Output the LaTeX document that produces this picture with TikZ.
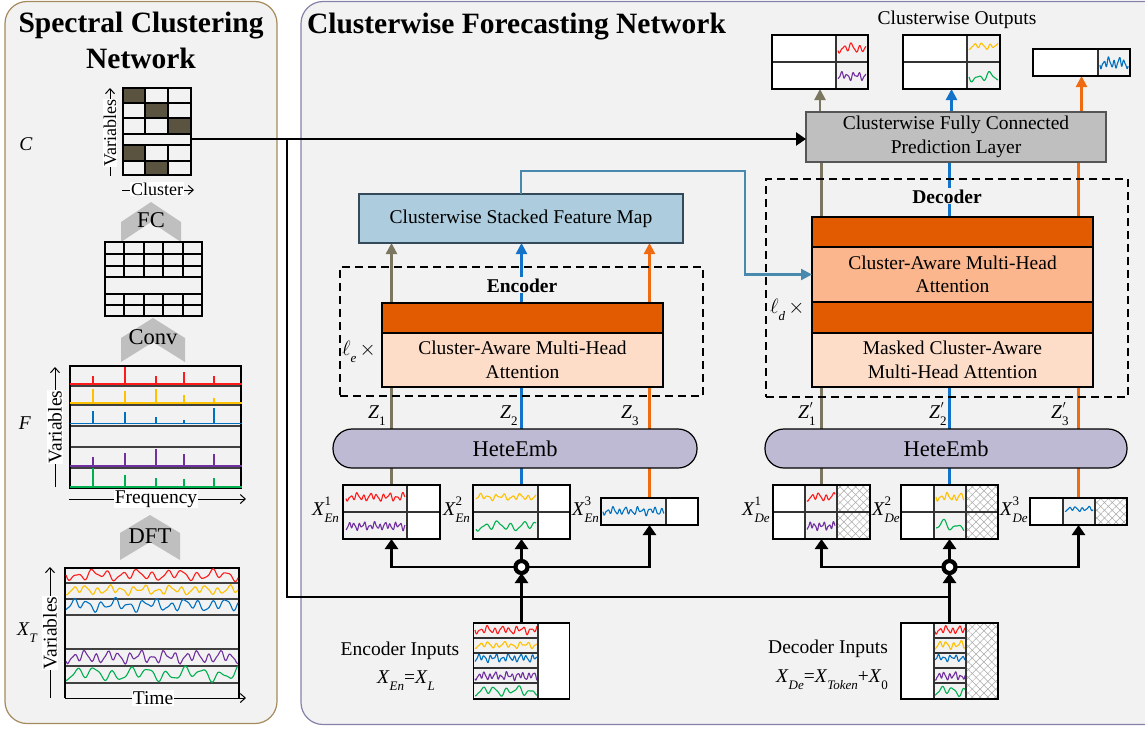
\documentclass[tikz,border=0pt]{standalone}
\usepackage{fontspec}
\setmainfont{Liberation Serif}
\usetikzlibrary{arrows.meta,patterns.meta}
\pgfdeclarelayer{panels}
\pgfdeclarelayer{wires}
\pgfsetlayers{panels,wires,main}

\definecolor{panelbg}{HTML}{F2F2F2}
\definecolor{leftedge}{HTML}{A58A5C}
\definecolor{rightedge}{HTML}{8482A8}
\definecolor{olivegray}{HTML}{7B7660}
\definecolor{wblue}{HTML}{1273C8}
\definecolor{worange}{HTML}{EE6B12}
\definecolor{sred}{HTML}{FF1A1A}
\definecolor{syellow}{HTML}{FFC000}
\definecolor{sblue}{HTML}{0070C0}
\definecolor{spurple}{HTML}{7030A0}
\definecolor{sgreen}{HTML}{00B050}
\definecolor{fmblue}{HTML}{ADCDDE}
\definecolor{fmedge}{HTML}{34495A}
\definecolor{linkblue}{HTML}{4A89AE}
\definecolor{dorange}{HTML}{E35B00}
\definecolor{morange}{HTML}{FBB68E}
\definecolor{peach}{HTML}{FDDCC8}
\definecolor{lav}{HTML}{BEBAD3}
\definecolor{predgray}{HTML}{BFBFBF}
\definecolor{prededge}{HTML}{555555}
\definecolor{cellfill}{HTML}{59533F}
\definecolor{chevgray}{HTML}{BFBFBF}
\definecolor{hatch}{HTML}{A8A8A8}

% wavy time series: colour, x0, width, mid y, amplitude, k1, k2, phase
\newcommand\tswave[8]{\draw[#1,wave] plot[domain=0:#3] ({#2+\x},{#4+#5*(0.5*sin(#6*\x+#8)+0.3*sin(#7*\x+2*#8)+0.2*sin(1.7*#6*\x+3*#8))});}
% cross-hatched (masked) cell
\newcommand\hatchcell[4]{%
  \fill[white] (#1,#2) rectangle (#3,#4);
  \fill[pattern={Lines[angle=45,distance=5.5pt,line width=0.5pt]},pattern color=hatch] (#1,#2) rectangle (#3,#4);
  \fill[pattern={Lines[angle=-45,distance=5.5pt,line width=0.5pt]},pattern color=hatch] (#1,#2) rectangle (#3,#4);}
% spectrum row: colour, baseline, five spike heights
\newcommand\spikes[7]{%
  \foreach \px/\ph in {93/#3,125/#4,156/#5,184/#6,214/#7} {\draw[#1,spike] (\px,#2) -- ++(0,-\ph);}
  \draw[#1,spike] (70,#2) -- (242,#2);}
% upward chevron: x0, x1, top, bottom, notch depth
\newcommand\chev[5]{\fill[chevgray] (#1,{#3+#5}) -- ({(#1+#2)/2},#3) -- (#2,{#3+#5}) -- (#2,#4) -- ({(#1+#2)/2},{#4-#5}) -- (#1,#4) -- cycle;}
% symbol with stacked super- and subscript
\newcommand\ssx[3]{\textit{#1}\rlap{\raisebox{0.5em}{\fontsize{13}{13}\selectfont #2}}\raisebox{-0.38em}{\fontsize{13}{13}\selectfont #3}}
\newcommand\subx[2]{\textit{#1}\raisebox{-0.38em}{\fontsize{13}{13}\selectfont\textit{#2}}}
\newcommand\primemark{\hspace{0.5pt}{\fontsize{11}{11}\selectfont$\prime$}}

\begin{document}
\begin{tikzpicture}[x=1pt,y=-1pt,
  font=\fontsize{19.5}{23.5}\selectfont,
  every node/.style={inner sep=0pt,outer sep=0pt},
  titletext/.style={font=\bfseries\fontsize{29.5}{34}\selectfont},
  boldlabel/.style={font=\bfseries\fontsize{19.5}{23.5}\selectfont},
  chevtext/.style={font=\fontsize{22.5}{26}\selectfont},
  gridline/.style={draw=black,line width=1.5pt},
  thinrule/.style={draw=black!75,line width=1.1pt},
  axisarrow/.style={draw=black,line width=1pt,-{Straight Barb[length=5pt,width=9pt]}},
  axislabel/.style={fill=white,inner sep=1pt},
  wave/.style={line width=1.1pt,smooth,samples=120,line join=round},
  spike/.style={line width=1.7pt},
  cellframe/.style={draw=black,line width=1.3pt},
  divider/.style={draw=black!80,line width=1.2pt},
  band/.style={draw=black,line width=1.4pt,minimum width=281pt,align=center},
  dashframe/.style={draw=black,line width=1.3pt,dash pattern=on 8pt off 5pt},
  pill/.style={draw=black,line width=1.2pt,fill=lav,rounded corners=19pt,minimum width=#1,minimum height=39pt,font=\fontsize{22.5}{26}\selectfont},
  wire/.style={line width=2.4pt},
  wirearrow/.style={wire,-{Triangle[length=11pt,width=11pt]}},
  blk/.style={draw=black,line width=2.8pt},
  blkarrow/.style={blk,-{Triangle[length=10pt,width=13pt]}},
  joinring/.style={circle,draw=black,line width=4.2pt,fill=white,minimum size=12pt},
  link/.style={draw=linkblue,line width=2.2pt,-{Triangle[length=11pt,width=11pt]}}
]
\useasboundingbox (0,0) rectangle (1145,728);
\clip (0,0) rectangle (1145,728);

\begin{pgfonlayer}{panels}
  \draw[leftedge,fill=panelbg,line width=1.2pt,rounded corners=22pt] (5,1.5) rectangle (277,723.5);
  \draw[rightedge,fill=panelbg,line width=1.2pt,rounded corners=22pt] (301,1.5) rectangle (1175,724.5);
\end{pgfonlayer}

%% ================= Spectral Clustering Network =================
\node[titletext,anchor=base] (sct1) at (141,32) {Spectral Clustering};
\node[titletext,anchor=base] (sct2) at (141,68) {Network};

% cluster assignment matrix C
\node[anchor=base] (clab) at (26,150) {\textit{C}};
\fill[cellfill] (123,88) rectangle (145,103) (145,103) rectangle (168,118) (168,118) rectangle (191,134)
                (123,145) rectangle (145,161) (145,161) rectangle (168,175);
\draw[gridline] (123,103) -- (191,103) (123,118) -- (191,118) (123,134) -- (191,134)
                (123,145) -- (191,145) (123,161) -- (191,161);
\draw[gridline] (145,88) -- (145,134) (168,88) -- (168,134) (145,145) -- (145,175) (168,145) -- (168,175);
\node[gridline,minimum width=68pt,minimum height=87pt] (cmat) at (157,131.5) {};
\draw[axisarrow] (110,176) -- (110,88);
\node[axislabel,rotate=90,font=\fontsize{18}{18}\selectfont] (cvar) at (110,133) {Variables};
\draw[axisarrow] (122,190) -- (194,190);
\node[axislabel,font=\fontsize{18}{18}\selectfont] (cclu) at (157,189) {Cluster};

% FC
\chev{121}{181}{202}{242}{20}
\node[chevtext,anchor=base] (fclab) at (151,227) {FC};
\draw[gridline] (105,254) -- (202,254) (105,266) -- (202,266) (105,277) -- (202,277)
                (105,294) -- (202,294) (105,305) -- (202,305);
\foreach \gx in {124,144,163,183} {\draw[gridline] (\gx,242) -- (\gx,277) (\gx,294) -- (\gx,316);}
\node[gridline,minimum width=97pt,minimum height=74pt] (fcmat) at (153.5,279) {};

% Conv
\chev{121}{185}{318}{362}{20}
\node[chevtext,anchor=base] (convlab) at (153,344) {Conv};

% spectrum F
\node[anchor=base] (flab) at (25,429) {\textit{F}};
\draw[thinrule] (70,386) -- (241,386) (70,405) -- (241,405) (70,426) -- (241,426)
                (70,447) -- (241,447) (70,468) -- (241,468);
\node[cellframe,minimum width=171pt,minimum height=122pt] (fspec) at (155.5,427) {};
\spikes{sred}{384}{8}{17}{8}{12}{8}
\spikes{syellow}{403}{14}{12}{14}{8}{5}
\spikes{sblue}{423.5}{13}{12}{7}{4}{16}
\spikes{spurple}{466}{9}{13}{17}{12}{12}
\spikes{sgreen}{487}{19}{12}{9}{8}{9}
\draw[axisarrow] (55,487) -- (55,367);
\node[axislabel,rotate=90] (fvar) at (55,427) {Variables};
\draw[axisarrow] (69,499) -- (246,499);
\node[axislabel] (ffreq) at (156,499) {Frequency};

% DFT
\chev{120}{180}{515}{560}{18}
\node[chevtext,anchor=base] (dftlab) at (150,543) {DFT};

% raw series X_T
\node[anchor=base west] (xtlab) at (17,635) {\ssx{X}{}{\textit{T}}};
\draw[thinrule] (65,583) -- (239,583) (65,599) -- (239,599) (65,615) -- (239,615)
                (65,649) -- (239,649) (65,666) -- (239,666) (65,683) -- (239,683);
\draw[cellframe] (65,698) -- (65,568) -- (239,568) -- (239,698);
\tswave{sred}{66}{172}{575}{7}{24}{9}{0}
\tswave{syellow}{66}{172}{590}{6}{30}{12}{40}
\tswave{sblue}{66}{172}{605}{8}{26}{10}{70}
\tswave{spurple}{66}{172}{657}{8}{32}{13}{20}
\tswave{sgreen}{66}{172}{674}{9}{20}{7}{55}
\draw[axisarrow] (50,698) -- (50,567);
\node[axislabel,rotate=90] (xtvar) at (50,633) {Variables};
\draw[axisarrow] (65,698) -- (246,698);
\node[axislabel] (xttime) at (153,698) {Time};

%% ================= Clusterwise Forecasting Network =================
\node[titletext,anchor=base west] (cftitle) at (307,33) {Clusterwise Forecasting Network};

% outputs
\node[anchor=base] (outlab) at (957,24) {Clusterwise Outputs};
\fill[white] (772,35) rectangle (836,89) (903,35) rectangle (967,89) (1033,49) rectangle (1098,76);
\tswave{sred}{838}{28}{48}{6}{45}{20}{15}
\tswave{spurple}{838}{28}{76}{5}{60}{27}{70}
\tswave{syellow}{969}{29}{46}{4}{45}{20}{35}
\tswave{sgreen}{969}{29}{77}{6}{30}{13}{0}
\tswave{sblue}{1100}{28}{63}{7}{70}{30}{10}
\draw[divider] (836,35) -- (836,89) (772,62) -- (868,62) (967,35) -- (967,89) (903,62) -- (1000,62) (1098,49) -- (1098,76);
\node[cellframe,minimum width=96pt,minimum height=54pt] (out1) at (820,62) {};
\node[cellframe,minimum width=97pt,minimum height=54pt] (out2) at (951.5,62) {};
\node[cellframe,minimum width=97pt,minimum height=27pt] (out3) at (1081.5,62.5) {};

% prediction layer
\node[draw=prededge,line width=1.3pt,fill=predgray,minimum width=300pt,minimum height=50pt,align=center] (pred) at (956,137)
  {Clusterwise Fully Connected\\Prediction Layer};

% feature map
\node[draw=fmedge,line width=1.3pt,fill=fmblue,minimum width=324pt,minimum height=49pt] (fmap) at (521,218.5)
  {Clusterwise Stacked Feature Map};

% encoder
\node[dashframe,minimum width=363pt,minimum height=129pt] (encbox) at (521.5,331.5) {};
\node[boldlabel,anchor=base,fill=panelbg,inner sep=1pt] (enclab) at (522,292) {Encoder};
\node[band,fill=dorange,minimum height=30pt] (encnorm) at (522.5,318) {};
\node[band,fill=peach,minimum height=54pt] (encattn) at (522.5,360) {Cluster-Aware Multi-Head\\Attention};
\node[anchor=base west] (lenc) at (342,355) {$\ell$\raisebox{-0.38em}{\fontsize{13}{13}\selectfont\textit{e}}\,$\times$};
\node[pill=364pt] (encemb) at (515,448.5) {HeteEmb};
\node[anchor=base west] (z1) at (368,418) {\ssx{Z}{}{1}};
\node[anchor=base west] (z2) at (500,418) {\ssx{Z}{}{2}};
\node[anchor=base west] (z3) at (621,418) {\ssx{Z}{}{3}};

% decoder
\node[dashframe,minimum width=362pt,minimum height=218pt] (decbox) at (947,288) {};
\node[boldlabel,anchor=base,fill=panelbg,inner sep=1pt] (declab) at (947,203) {Decoder};
\node[band,fill=dorange,minimum height=30pt] (decnormb) at (952.5,232) {};
\node[band,fill=morange,minimum height=55pt] (deccross) at (952.5,274.5) {Cluster-Aware Multi-Head\\Attention};
\node[band,fill=dorange,minimum height=31pt] (decnorma) at (952.5,317.5) {};
\node[band,fill=peach,minimum height=54pt] (decmask) at (952.5,360) {Masked Cluster-Aware\\Multi-Head Attention};
\node[anchor=base west] (ldec) at (770,313) {$\ell$\raisebox{-0.38em}{\fontsize{13}{13}\selectfont\textit{d}}\,$\times$};
\node[pill=362pt] (decemb) at (946,448.5) {HeteEmb};
\node[anchor=base west] (zd1) at (798,418) {\ssx{Z}{\primemark}{1}};
\node[anchor=base west] (zd2) at (929,418) {\ssx{Z}{\primemark}{2}};
\node[anchor=base west] (zd3) at (1051,418) {\ssx{Z}{\primemark}{3}};

% encoder cluster inputs
\fill[white] (407,485) rectangle (440,539) (538,485) rectangle (570,539) (666,498) rectangle (698,525);
\tswave{sred}{346}{59}{497}{5}{55}{23}{10}
\tswave{spurple}{346}{59}{526}{5}{70}{31}{50}
\tswave{syellow}{476}{60}{497}{4}{45}{19}{80}
\tswave{sgreen}{476}{60}{526}{6}{28}{11}{20}
\tswave{sblue}{603}{61}{511}{5}{60}{27}{5}
\draw[divider] (407,485) -- (407,539) (343,512) -- (440,512) (538,485) -- (538,539) (473,512) -- (570,512) (666,498) -- (666,525);
\node[cellframe,minimum width=97pt,minimum height=54pt] (xen1) at (391.5,512) {};
\node[cellframe,minimum width=97pt,minimum height=54pt] (xen2) at (521.5,512) {};
\node[cellframe,minimum width=97pt,minimum height=27pt] (xen3) at (649.5,511.5) {};
\node[anchor=base west] (xen1lab) at (312,515) {\ssx{X}{1}{\textit{En}}};
\node[anchor=base west] (xen2lab) at (443,515) {\ssx{X}{2}{\textit{En}}};
\node[anchor=base west] (xen3lab) at (572,515) {\ssx{X}{3}{\textit{En}}};

% decoder cluster inputs
\fill[white] (773,485) rectangle (805,539) (901,485) rectangle (934,539) (1030,498) rectangle (1063,525);
\hatchcell{837}{485}{870}{539}
\hatchcell{966}{485}{998}{539}
\hatchcell{1095}{498}{1127}{525}
\tswave{sred}{807}{28}{497}{5}{50}{21}{30}
\tswave{spurple}{807}{28}{526}{5}{75}{33}{60}
\tswave{syellow}{936}{28}{497}{5}{55}{25}{0}
\tswave{sgreen}{936}{28}{526}{7}{25}{12}{90}
\tswave{sblue}{1065}{28}{509}{3}{55}{23}{40}
\draw[divider] (805,485) -- (805,539) (837,485) -- (837,539) (773,512) -- (870,512)
               (934,485) -- (934,539) (966,485) -- (966,539) (901,512) -- (998,512)
               (1063,498) -- (1063,525) (1095,498) -- (1095,525);
\node[cellframe,minimum width=97pt,minimum height=54pt] (xde1) at (821.5,512) {};
\node[cellframe,minimum width=97pt,minimum height=54pt] (xde2) at (949.5,512) {};
\node[cellframe,minimum width=97pt,minimum height=27pt] (xde3) at (1078.5,511.5) {};
\node[anchor=base west] (xde1lab) at (742,515) {\ssx{X}{1}{\textit{De}}};
\node[anchor=base west] (xde2lab) at (872,515) {\ssx{X}{2}{\textit{De}}};
\node[anchor=base west] (xde3lab) at (1000,515) {\ssx{X}{3}{\textit{De}}};

% split points
\node[joinring] (encjoin) at (521.5,567) {};
\node[joinring] (decjoin) at (949.5,567) {};

% encoder inputs
\node[anchor=base] (encinlab) at (400,655) {Encoder Inputs};
\node[anchor=base] (encinfml) at (406,683) {\subx{X}{En}=\subx{X}{L}};
\fill[white] (538,623) rectangle (570,699);
\tswave{sred}{475}{62}{630}{5}{50}{22}{0}
\tswave{syellow}{475}{62}{645}{4}{45}{19}{30}
\tswave{sblue}{475}{62}{658}{5}{60}{26}{60}
\tswave{spurple}{475}{62}{676}{5}{65}{29}{20}
\tswave{sgreen}{475}{62}{691}{6}{30}{13}{45}
\draw[divider] (473.5,638) -- (538,638) (473.5,653) -- (538,653) (473.5,668) -- (538,668) (473.5,683) -- (538,683) (538,623) -- (538,699);
\node[cellframe,minimum width=96pt,minimum height=76pt] (encin) at (521.5,661) {};

% decoder inputs
\node[anchor=base] (decinlab) at (828,653) {Decoder Inputs};
\node[anchor=base] (decinfml) at (832,682) {\subx{X}{De}=\subx{X}{Token}+\textit{X}\raisebox{-0.38em}{\fontsize{13}{13}\selectfont 0}};
\fill[white] (901,623) rectangle (934,699);
\hatchcell{966}{623}{998}{699}
\tswave{sred}{935}{30}{630}{5}{55}{24}{10}
\tswave{syellow}{935}{30}{645}{5}{50}{21}{50}
\tswave{sblue}{935}{30}{658}{4}{60}{26}{80}
\tswave{spurple}{935}{30}{676}{5}{65}{29}{30}
\tswave{sgreen}{935}{30}{691}{6}{32}{13}{60}
\draw[divider] (934,638) -- (966,638) (934,653) -- (966,653) (934,668) -- (966,668) (934,683) -- (966,683)
               (934,623) -- (934,699) (966,623) -- (966,699);
\node[cellframe,minimum width=97pt,minimum height=76pt] (decin) at (949.5,661) {};

%% ---------- coloured cluster streams ----------
\begin{pgfonlayer}{wires}
  \draw[wirearrow,olivegray] (xen1.north) -- (xen1.north |- fmap.south);
  \draw[wirearrow,wblue] (xen2.north) -- (xen2.north |- fmap.south);
  \draw[wirearrow,worange] (xen3.north) -- (xen3.north |- fmap.south);
  \draw[wire,olivegray] (xde1.north) -- (xde1.north |- pred.south);
  \draw[wire,wblue] (xde2.north) -- (xde2.north |- pred.south);
  \draw[wire,worange] (xde3.north) -- (xde3.north |- pred.south);
  \draw[wirearrow,olivegray] (pred.north -| out1.south) -- (out1.south);
  \draw[wirearrow,wblue] (pred.north -| out2.south) -- (out2.south);
  \draw[wirearrow,worange] (pred.north -| out3.south) -- (out3.south);
\end{pgfonlayer}

% encoder memory into decoder cross attention
\coordinate (linkturn) at (745,171);
\draw[link] (fmap.north) |- (linkturn) |- (deccross.west);

%% ---------- black connectors ----------
\coordinate (cout) at (191,139);
\coordinate (tap) at (287,139);
\coordinate (bus) at (949.5,597);
\draw[blkarrow] (cout) -- (cout -| pred.west);
\draw[blk] (tap) |- (bus);
\draw[blk] (encin.north) -- (encin.north |- bus);
\draw[blk] (decin.north) -- (bus);
\draw[blkarrow] (encjoin |- bus) -- (encjoin.south);
\draw[blkarrow] (bus) -- (decjoin.south);
\draw[blkarrow] (encjoin.north) -- (xen2.south);
\draw[blkarrow] (encjoin.west) -| (xen1.south);
\draw[blkarrow] (encjoin.east) -| (xen3.south);
\draw[blkarrow] (decjoin.north) -- (xde2.south);
\draw[blkarrow] (decjoin.west) -| (xde1.south);
\draw[blkarrow] (decjoin.east) -| (xde3.south);
\end{tikzpicture}
\end{document}
